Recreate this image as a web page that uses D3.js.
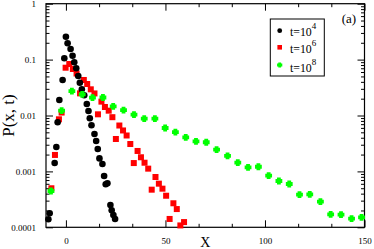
<!DOCTYPE html>
<html><head><meta charset="utf-8">
<script src="https://cdn.jsdelivr.net/npm/d3@7"></script>
<style>html,body{margin:0;padding:0;background:#fff}svg{display:block}</style>
</head><body>
<script>
// ---- data ----
const blackX = [-8.8,-8.15,-5.65,-4.8,-4.15,-3.3,-1.65,-0.8,0,0.85,2.35,3.35,4.2,5.2,6.2,7,8,9.2,10.5,11.35,12,12.85,14.35,15.2,16,16.85,18.35,19.2,20,20.85,22.35,23,23.85,24.7];
const blackY = [1.39e-4,1.78e-4,1.41e-3,2.73e-3,7.56e-3,0.0189,0.0432,0.1055,0.257,0.196,0.155,0.1174,0.0895,0.0699,0.0509,0.0386,0.0294,0.0230,0.0161,0.01205,0.00891,0.00668,0.00467,0.0035,0.00252,0.00171,0.00136,8.28e-4,5.88e-4,6.12e-4,2.51e-4,2.01e-4,1.66e-4,1.41e-4];
const redX = [-7.3,-5.5,-3.5,-2.15,-0.15,1.7,3.5,5.35,7.1,9,10.7,12.5,14.35,16.1,17.85,19.6,21.5,23.35,25.1,26.85,28.7,30.5,32.35,34.1,36,37.7,39.5,41.35,43.1,45,46.7,48.5,50.35,52.1,54,55.7,57.5,59.35];
const redY = [4.99e-4,1.97e-3,8.55e-3,0.0113,0.0716,0.0834,0.0679,0.0564,0.0249,0.0432,0.0366,0.0294,0.0248,0.0105,0.0177,0.0142,0.0122,0.00933,0.0038,0.00662,0.0054,0.00439,0.00309,0.00141,0.00232,0.00179,0.00143,0.00112,4.71e-4,7.94e-4,6.03e-4,4.91e-4,3.67e-4,1.41e-4,2.69e-4,2.12e-4,1.08e-4,1.24e-4];
const greenX = [-7.5,-2.15,3,8.2,13.35,18.6,23.75,28.95,34.2,39.35,44.7,49.85,55,60.2,65.35,70.5,75.7,81.2,86.35,91.5,96.7,101.85,107,112.2,117.35,122.5,127.85,133,138.2,143.5,148.5];
const greenY = [4.46e-4,0.0122,0.0274,0.0239,0.0208,0.0210,0.0146,0.01244,0.01033,0.00877,0.00877,0.00598,0.00506,0.00407,0.00345,0.00332,0.00245,0.00189,0.00143,0.00118,0.00121,8.38e-4,6.73e-4,5.95e-4,3.83e-4,3.89e-4,2.87e-4,1.71e-4,1.68e-4,1.43e-4,1.51e-4];
const legendBase = ["t=10","t=10","t=10"];
const legendExp = ["4","6","8"];
const xTicks = [0,50,100,150];
const xTickLabels = ["0","50","100","150"];
const xMinorTicks = [50/3,100/3,200/3,250/3,350/3,400/3];
const yTicks = [1e-4,1e-3,1e-2,0.1,1];
const yTickLabels = ["0.0001","0.001","0.01","0.1","1"];
const xDomain = [-10,150];
const yDomain = [1e-4,1];

// ---- layout ----
const W = 374, H = 249;
const L = 46, R = 364.5, T = 3.7, B = 227.3;
const serif = "'Liberation Serif','DejaVu Serif',serif";

const svg = d3.select("body").append("svg").attr("width",W).attr("height",H);
const x = d3.scaleLinear().domain(xDomain).range([L,R]);
const y = d3.scaleLog().domain(yDomain).range([B,T]);

const yMinor = [];
for (let e=-4; e<0; e++) for (let k=2;k<=9;k++) yMinor.push(k*Math.pow(10,e));

function styleAxis(g){
  g.select(".domain").remove();
  g.selectAll("line").attr("stroke","#000").attr("stroke-width",1);
  g.selectAll("text").attr("font-family",serif).attr("font-size",9).attr("fill","#000");
}
// bottom
svg.append("g").attr("transform",`translate(0,${B})`)
  .call(d3.axisBottom(x).tickValues(xTicks).tickSizeInner(-7).tickSizeOuter(0).tickPadding(10)
        .tickFormat((d,i)=>xTickLabels[i])).call(styleAxis);
svg.append("g").attr("transform",`translate(0,${B})`)
  .call(d3.axisBottom(x).tickValues(xMinorTicks).tickSize(-3.5).tickFormat("")).call(styleAxis);
// top
svg.append("g").attr("transform",`translate(0,${T})`)
  .call(d3.axisTop(x).tickValues(xTicks).tickSize(-7).tickFormat("")).call(styleAxis);
svg.append("g").attr("transform",`translate(0,${T})`)
  .call(d3.axisTop(x).tickValues(xMinorTicks).tickSize(-3.5).tickFormat("")).call(styleAxis);
// left
svg.append("g").attr("transform",`translate(${L},0)`)
  .call(d3.axisLeft(y).tickValues(yTicks).tickSizeInner(-7).tickSizeOuter(0).tickPadding(10)
        .tickFormat((d,i)=>yTickLabels[i])).call(styleAxis);
svg.append("g").attr("transform",`translate(${L},0)`)
  .call(d3.axisLeft(y).tickValues(yMinor).tickSize(-3.5).tickFormat("")).call(styleAxis);
// right
svg.append("g").attr("transform",`translate(${R},0)`)
  .call(d3.axisRight(y).tickValues(yTicks).tickSize(-7).tickFormat("")).call(styleAxis);
svg.append("g").attr("transform",`translate(${R},0)`)
  .call(d3.axisRight(y).tickValues(yMinor).tickSize(-3.5).tickFormat("")).call(styleAxis);

// frame
svg.append("rect").attr("x",L).attr("y",T).attr("width",R-L).attr("height",B-T)
  .attr("fill","none").attr("stroke","#000").attr("stroke-width",1.2);

// axis labels
svg.append("text").attr("x",(L+R)/2).attr("y",247).attr("text-anchor","middle")
  .attr("font-family",serif).attr("font-size",14).text("X");
svg.append("text").attr("transform",`translate(14,${(T+B)/2}) rotate(-90)`).attr("text-anchor","middle")
  .attr("font-family",serif).attr("font-size",17).text("P(x, t)");

// markers
function plusPath(a,b){
  return `M${-b},${-a}H${b}V${-b}H${a}V${b}H${b}V${a}H${-b}V${b}H${-a}V${-b}H${-b}Z`;
}
const red = redX.map((v,i)=>[v,redY[i]]);
const black = blackX.map((v,i)=>[v,blackY[i]]);
const green = greenX.map((v,i)=>[v,greenY[i]]);
const plot = svg.append("g");
plot.selectAll("rect.r").data(red).join("rect").attr("class","r")
  .attr("x",d=>x(d[0])-3).attr("y",d=>y(d[1])-3).attr("width",6).attr("height",6).attr("fill","#ff0000");
plot.selectAll("circle.b").data(black).join("circle").attr("class","b")
  .attr("cx",d=>x(d[0])).attr("cy",d=>y(d[1])).attr("r",3.3).attr("fill","#000");
plot.selectAll("path.g").data(green).join("path").attr("class","g")
  .attr("transform",d=>`translate(${x(d[0])},${y(d[1])})`).attr("d",plusPath(3.4,1.9)).attr("fill","#00ff00");

// legend
const lg = svg.append("g");
lg.append("rect").attr("x",270.3).attr("y",19).attr("width",54).attr("height",57)
  .attr("fill","#fff").attr("stroke","#000").attr("stroke-width",1);
const markerY = [30.7,47.3,65];
const textY = [35.5,53.3,71.7];
lg.append("circle").attr("cx",279.7).attr("cy",markerY[0]).attr("r",2.4).attr("fill","#000");
lg.append("rect").attr("x",279.7-2.3).attr("y",markerY[1]-2.3).attr("width",4.6).attr("height",4.6).attr("fill","#ff0000");
lg.append("path").attr("transform",`translate(279.7,${markerY[2]})`).attr("d",plusPath(2.6,1.4)).attr("fill","#00ff00");
legendBase.forEach((s,i)=>{
  const t = lg.append("text").attr("x",290).attr("y",textY[i]).attr("font-family",serif).attr("font-size",11.8);
  t.append("tspan").text(s);
  t.append("tspan").attr("font-size",9).attr("dy",-7).text(legendExp[i]);
});
svg.append("text").attr("x",341.7).attr("y",23).attr("font-family",serif).attr("font-size",13).text("(a)");
</script>
</body></html>
